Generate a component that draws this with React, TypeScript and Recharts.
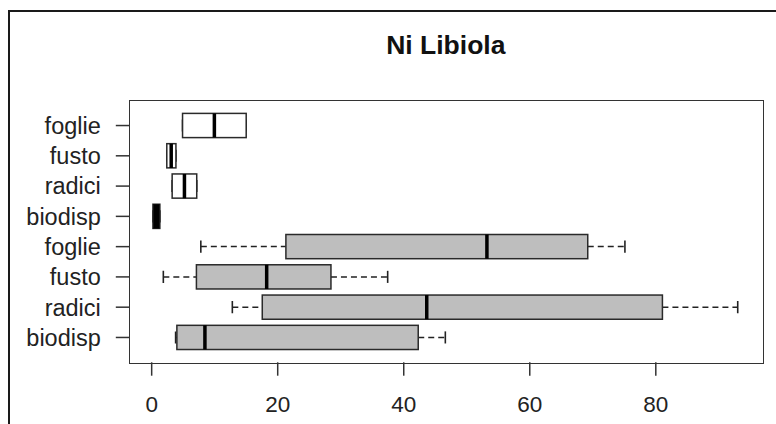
import React from 'react';
import { ComposedChart, Bar, XAxis, YAxis } from 'recharts';

// rows, top to bottom
const ROW_LABELS = ['foglie', 'fusto', 'radici', 'biodisp', 'foglie', 'fusto', 'radici', 'biodisp'];
const ROW_SET = ['white', 'white', 'white', 'white', 'gray', 'gray', 'gray', 'gray'];
const WHISKER_LOW = [4.9, 2.4, 3.25, 0.2, 7.8, 1.85, 12.8, 3.8];
const Q1 = [4.9, 2.4, 3.25, 0.2, 21.3, 7.1, 17.55, 4.0];
const MEDIAN = [9.95, 3.1, 5.2, 0.75, 53.2, 18.25, 43.65, 8.45];
const Q3 = [15.0, 3.85, 7.15, 1.3, 69.2, 28.45, 81.05, 42.3];
const WHISKER_HIGH = [15.0, 3.85, 7.15, 1.3, 75.1, 37.45, 93.0, 46.6];
const X_TICKS = [0, 20, 40, 60, 80];

const FILLS: Record<string, string> = { white: '#ffffff', gray: '#bebebe' };
const FONT = '"Liberation Sans", Arial, sans-serif';

const data = ROW_LABELS.map((label, i) => ({
  id: `${label}-${i}`,
  label,
  set: ROW_SET[i],
  min: WHISKER_LOW[i],
  q1: Q1[i],
  median: MEDIAN[i],
  q3: Q3[i],
  max: WHISKER_HIGH[i],
  range: [WHISKER_LOW[i], WHISKER_HIGH[i]],
}));

const BoxShape = (props: any) => {
  const { x, y, width, height, payload } = props;
  const span = payload.max - payload.min;
  const px = (v: number) => x + ((v - payload.min) / span) * width;
  const cy = y + height / 2;
  const cap = height / 4;
  const xq1 = px(payload.q1);
  const xq3 = px(payload.q3);
  const xm = px(payload.median);
  const xmin = x;
  const xmax = x + width;
  // a very narrow box closes up into a solid bar, as on the R device
  const boxW = xq3 - xq1;
  const medW = boxW < 8 ? Math.max(3.5, boxW - 0.5) : 3.5;
  return (
    <g>
      {xmin < xq1 && (
        <line x1={xmin} x2={xq1} y1={cy} y2={cy} stroke="#222" strokeWidth={1.5} strokeDasharray="6 4" />
      )}
      {xmax > xq3 && (
        <line x1={xq3} x2={xmax} y1={cy} y2={cy} stroke="#222" strokeWidth={1.5} strokeDasharray="6 4" />
      )}
      <line x1={xmin} x2={xmin} y1={cy - cap} y2={cy + cap} stroke="#222" strokeWidth={1.6} />
      <line x1={xmax} x2={xmax} y1={cy - cap} y2={cy + cap} stroke="#222" strokeWidth={1.6} />
      <rect
        x={xq1}
        y={y}
        width={boxW}
        height={height}
        fill={FILLS[payload.set]}
        stroke="#2a2a2a"
        strokeWidth={1.5}
      />
      <line x1={xm} x2={xm} y1={y} y2={y + height} stroke="#000" strokeWidth={medW} />
    </g>
  );
};

export default function App() {
  return (
    <div
      style={{
        position: 'fixed',
        left: 0,
        top: 0,
        width: 776,
        height: 424,
        overflow: 'hidden',
        background: '#fff',
        fontFamily: FONT,
      }}
    >
      {/* outer figure frame */}
      <div
        style={{
          position: 'absolute',
          left: 8,
          top: 10,
          width: 820,
          height: 480,
          borderLeft: '2px solid #1a1a1a',
          borderTop: '2px solid #1a1a1a',
        }}
      />
      <div
        style={{
          position: 'absolute',
          left: 445.8,
          top: 32,
          transform: 'translateX(-50%)',
          fontSize: 26.5,
          lineHeight: '26px',
          fontWeight: 'bold',
          color: '#111',
          whiteSpace: 'nowrap',
        }}
      >
        Ni Libiola
      </div>
      <div style={{ position: 'absolute', left: 0, top: 0 }}>
        <ComposedChart
          width={776}
          height={424}
          data={data}
          layout="vertical"
          margin={{ top: 100.7, right: 13.7, bottom: 0, left: 0 }}
        >
          <XAxis
            type="number"
            domain={[-3.55, 96.9]}
            ticks={X_TICKS}
            allowDataOverflow
            axisLine={false}
            tickSize={13.4}
            tickMargin={20}
            height={61.7}
            tickLine={{ stroke: '#333', strokeWidth: 1.5 }}
            tick={{ fontSize: 22.5, fill: '#222', fontFamily: FONT }}
          />
          <YAxis
            type="category"
            dataKey="id"
            width={129.3}
            interval={0}
            axisLine={false}
            tickSize={13.5}
            tickMargin={15}
            padding={{ top: 9.7, bottom: 9.7 }}
            tickFormatter={(_v: any, i: number) => ROW_LABELS[i]}
            tickLine={{ stroke: '#333', strokeWidth: 1.5 }}
            tick={{ fontSize: 23.5, fill: '#222', fontFamily: FONT }}
          />
          <Bar dataKey="range" barSize={24.2} shape={BoxShape} isAnimationActive={false} />
        </ComposedChart>
      </div>
      {/* plot box */}
      <div
        style={{
          position: 'absolute',
          left: 128.5,
          top: 100,
          width: 633,
          height: 261.6,
          border: '1.5px solid #333',
          pointerEvents: 'none',
        }}
      />
    </div>
  );
}
